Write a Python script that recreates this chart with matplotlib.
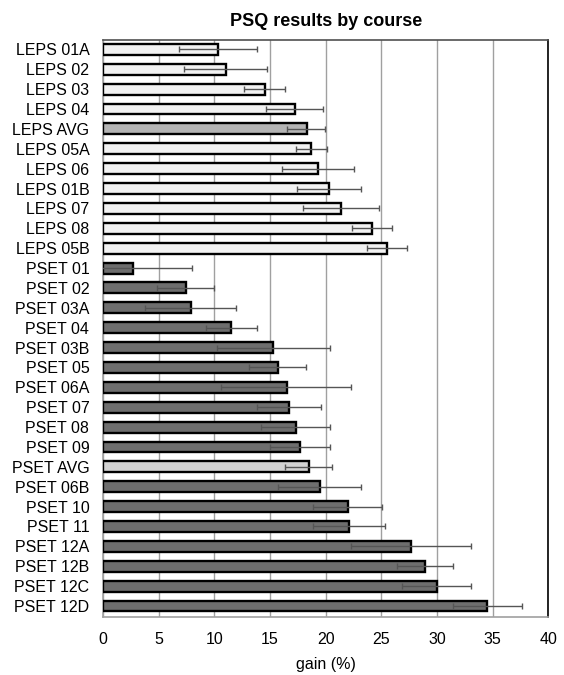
import matplotlib
matplotlib.use("Agg")
import matplotlib.pyplot as plt

# Data ------------------------------------------------------------------------
courses = [
    "LEPS 01A", "LEPS 02", "LEPS 03", "LEPS 04", "LEPS AVG", "LEPS 05A",
    "LEPS 06", "LEPS 01B", "LEPS 07", "LEPS 08", "LEPS 05B",
    "PSET 01", "PSET 02", "PSET 03A", "PSET 04", "PSET 03B", "PSET 05",
    "PSET 06A", "PSET 07", "PSET 08", "PSET 09", "PSET AVG", "PSET 06B",
    "PSET 10", "PSET 11", "PSET 12A", "PSET 12B", "PSET 12C", "PSET 12D",
]
gain = [
    10.3, 11.0, 14.5, 17.2, 18.3, 18.7, 19.3, 20.3, 21.4, 24.2, 25.5,
    2.7, 7.4, 7.9, 11.5, 15.3, 15.7, 16.5, 16.7, 17.3, 17.7, 18.5, 19.5,
    22.0, 22.1, 27.7, 28.9, 30.0, 34.5,
]
err_low = [
    3.5, 3.7, 1.8, 2.6, 1.8, 1.4, 3.2, 2.9, 3.4, 1.8, 1.8,
    5.3, 2.6, 4.1, 2.3, 5.1, 2.6, 5.9, 2.9, 3.1, 2.7, 2.2, 3.8,
    3.1, 3.2, 5.4, 2.5, 3.1, 3.1,
]
err_high = [
    3.5, 3.7, 1.8, 2.6, 1.6, 1.4, 3.2, 2.9, 3.4, 1.8, 1.8,
    5.3, 2.6, 4.0, 2.3, 5.1, 2.5, 5.8, 2.9, 3.1, 2.7, 2.1, 3.7,
    3.1, 3.2, 5.4, 2.5, 3.1, 3.1,
]

# Style -----------------------------------------------------------------------
plt.rcParams["font.family"] = ["Liberation Sans", "DejaVu Sans"]


def bar_color(name):
    if name == "LEPS AVG":
        return "#b4b4b4"
    if name == "PSET AVG":
        return "#d2d2d2"
    if name.startswith("LEPS"):
        return "#f2f2f2"
    return "#6e6e6e"


colors = [bar_color(c) for c in courses]

# Plot ------------------------------------------------------------------------
fig = plt.figure(figsize=(5.64, 6.75), dpi=100)
ax = fig.add_axes([0.183, 0.086, 0.789, 0.855])

ypos = list(range(len(courses)))
ax.barh(ypos, gain, height=0.55, color=colors, edgecolor="black",
        linewidth=1.7, zorder=3)
ax.errorbar(gain, ypos, xerr=[err_low, err_high], fmt="none",
            ecolor="#555555", elinewidth=1.0, capsize=2.5, capthick=1.0,
            zorder=4)

ax.set_xlim(0, 40)
ax.set_ylim(len(courses) - 0.45, -0.48)
ax.set_xticks(range(0, 41, 5))
ax.set_yticks(ypos)
ax.set_yticklabels(courses)
ax.tick_params(axis="both", length=0, labelsize=11.5)
ax.tick_params(axis="x", pad=11)
ax.tick_params(axis="y", pad=10)

ax.grid(axis="x", color="#a0a0a0", linewidth=1.0, zorder=0)
ax.spines["left"].set_color("#a0a0a0")
ax.spines["bottom"].set_color("#a0a0a0")
ax.spines["top"].set_color("#505050")
ax.spines["right"].set_color("black")
for s in ax.spines.values():
    s.set_linewidth(1.2)

ax.set_title("PSQ results by course", fontsize=13, fontweight="bold", pad=10)
ax.set_xlabel("gain (%)", fontsize=11.5, labelpad=7)

fig.savefig("out.png", dpi=100)
